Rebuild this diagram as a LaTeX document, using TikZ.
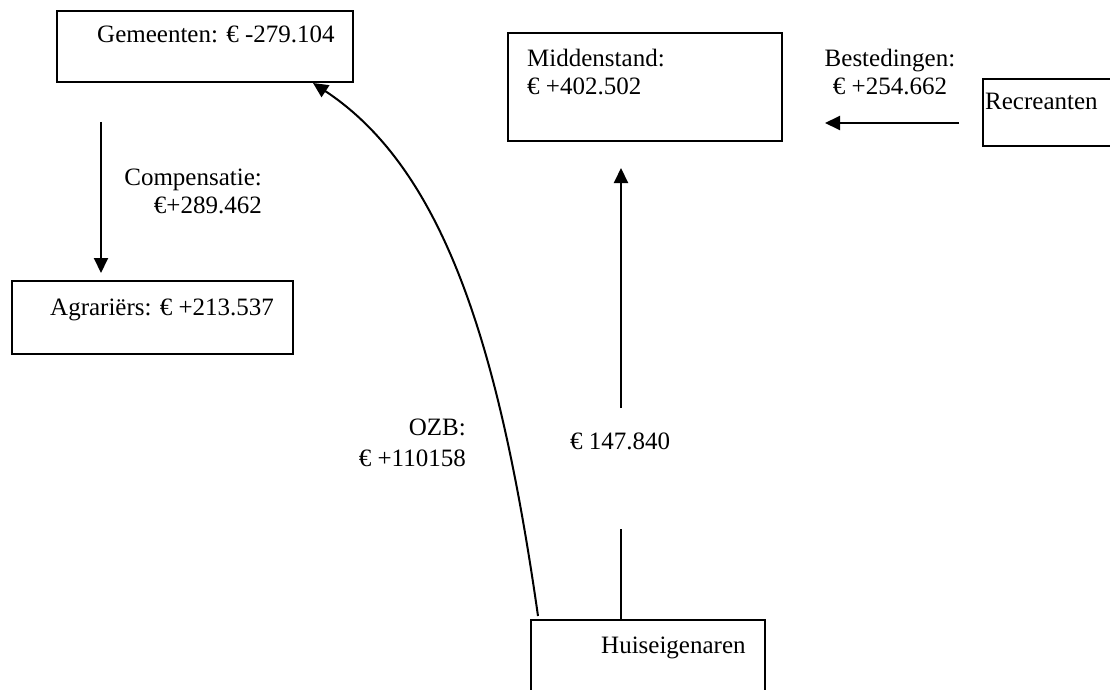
\documentclass[tikz,border=0pt]{standalone}
\usepackage{fontspec}
\setmainfont{Liberation Serif}
\usetikzlibrary{arrows.meta}
\begin{document}
\begin{tikzpicture}[x=1pt,y=-1pt,
  box/.style={draw, line width=2pt, rectangle, anchor=north west, inner sep=0pt},
  txt/.style={inner sep=0pt, font=\fontsize{25}{28}\selectfont},
  arr/.style={line width=2pt, -{Triangle[length=15pt,width=14pt]}},
  ln/.style={line width=2pt}]
\useasboundingbox (0,0) rectangle (1110,690);
\clip (0,0) rectangle (1110,690);
% boxes
\node[box, minimum width=296pt, minimum height=71pt] (gem) at (56,10) {};
\node[box, minimum width=274pt, minimum height=108pt] (mid) at (507,32) {};
\node[box, minimum width=150pt, minimum height=67pt] (rec) at (982,78) {};
\node[box, minimum width=281pt, minimum height=73pt] (agr) at (11,280) {};
\node[box, minimum width=234pt, minimum height=100pt] (hui) at (530,619) {};
% texts (base anchor = last line baseline)
\node[txt, anchor=base west] (gemt) at (97,43) {Gemeenten: € -279.104};
\node[txt, anchor=base west, align=left] (midt) at (527,95) {Middenstand:\\€ +402.502};
\node[txt, anchor=base, align=center] (bestt) at (890,95) {Bestedingen:\\€ +254.662};
\node[txt, anchor=base west] (rect) at (985,110) {Recreanten};
\node[txt, anchor=base east, align=right] (compt) at (262,213) {Compensatie:\\€+289.462};
\node[txt, anchor=base west] (agrt) at (50,315) {Agrariërs: € +213.537};
\node[txt, anchor=base east, align=right] (ozbt) at (466,466) {OZB:\\[3pt]€ +110158};
\node[txt, anchor=base] (hmt) at (620,449) {€ 147.840};
\node[txt, anchor=base west] (huit) at (601,653) {Huiseigenaren};
% connector end points
\coordinate (compA) at (101,122);
\coordinate (compB) at (101,273);
\coordinate (recA) at (959,123);
\coordinate (recB) at (825,123);
\coordinate (midA) at (621,408);
\coordinate (midB) at (621,168);
\coordinate (huiTop) at (621,619);
\coordinate (huiUp) at (621,529);
\coordinate (ozbA) at (538,616);
\coordinate (ozbB) at (313,83);
% connectors
\draw[arr] (compA) -- (compB);
\draw[arr] (recA) -- (recB);
\draw[arr] (midA) -- (midB);
\draw[ln] (huiTop) -- (huiUp);
\draw[arr] (ozbA) .. controls (500,350) and (445,170) .. (ozbB);
\end{tikzpicture}
\end{document}
